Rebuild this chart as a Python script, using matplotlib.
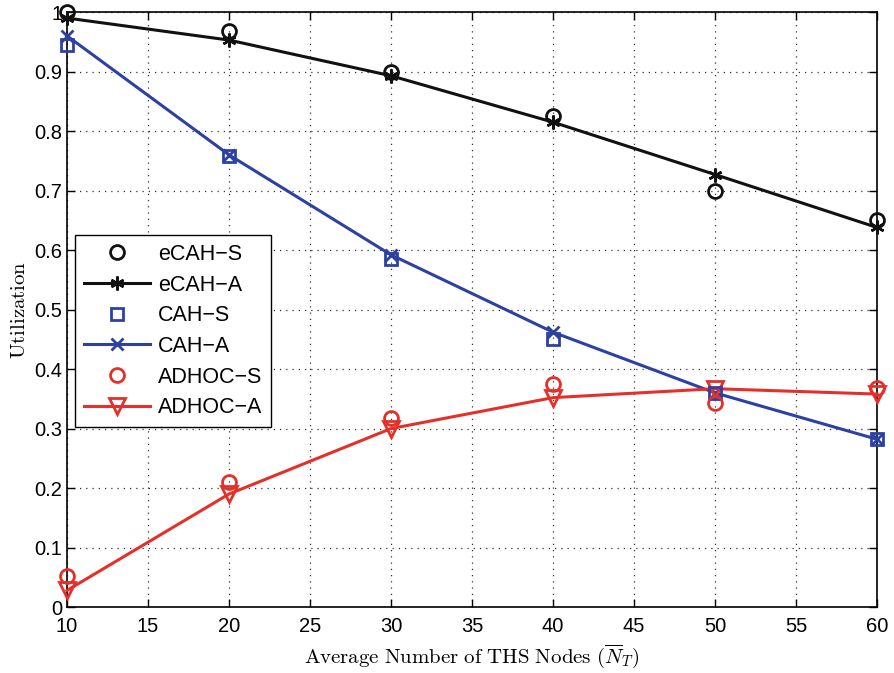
import numpy as np
import matplotlib.pyplot as plt

plt.rcParams['font.family'] = ['Liberation Sans', 'DejaVu Sans']
plt.rcParams['mathtext.fontset'] = 'cm'

nodes = [10, 20, 30, 40, 50, 60]
ecah_s = [1.0, 0.968, 0.90, 0.825, 0.70, 0.65]
ecah_a = [0.99, 0.953, 0.893, 0.815, 0.727, 0.638]
cah_s = [0.945, 0.758, 0.585, 0.45, 0.36, 0.282]
cah_a = [0.96, 0.76, 0.592, 0.462, 0.36, 0.282]
adhoc_s = [0.053, 0.21, 0.317, 0.375, 0.343, 0.368]
adhoc_a = [0.028, 0.19, 0.30, 0.352, 0.367, 0.358]

black = '#111111'
blue = '#2d41a3'
red = '#e5302a'

fig = plt.figure(figsize=(8.94, 6.73), dpi=100)
ax = fig.add_axes([0.075, 0.098, 0.906, 0.884])

ax.plot(nodes, ecah_s, 'o', color=black, mfc='none', ms=10, mew=2, label='eCAH\u2212S', clip_on=False, zorder=4)
ax.plot(nodes, ecah_a, '-', marker=(6, 2, 0), color=black, lw=2.2, ms=10, mew=1.8, label='eCAH\u2212A', clip_on=False, zorder=3)
ax.plot(nodes, cah_s, 's', color=blue, mfc='none', ms=9, mew=2, label='CAH\u2212S', clip_on=False, zorder=4)
ax.plot(nodes, cah_a, '-', marker='x', color=blue, lw=2.2, ms=8, mew=2, label='CAH\u2212A', clip_on=False, zorder=3)
ax.plot(nodes, adhoc_s, 'o', color=red, mfc='none', ms=10, mew=2, label='ADHOC\u2212S', clip_on=False, zorder=4)
ax.plot(nodes, adhoc_a, '-', marker='v', color=red, mfc='none', lw=2.2, ms=11, mew=2, label='ADHOC\u2212A', clip_on=False, zorder=3)

ax.set_xlim(10, 60)
ax.set_ylim(0, 1)
ax.set_xticks(np.arange(10, 61, 5))
ax.set_yticks(np.arange(0, 1.01, 0.1))
ax.set_yticklabels(['0', '0.1', '0.2', '0.3', '0.4', '0.5', '0.6', '0.7', '0.8', '0.9', '1'])
ax.tick_params(direction='in', top=True, right=True, labelsize=14.5, length=6, width=1)
ax.tick_params(axis='x', pad=7)
ax.grid(True, linestyle=(0, (1, 4)), color='#333333', lw=0.9)
for s in ax.spines.values():
    s.set_linewidth(1.2)

ax.set_xlabel(r'$\mathrm{Average\ Number\ of\ THS\ Nodes}\ (\overline{N}_T)$', fontsize=15, labelpad=5)
ax.set_ylabel(r'$\mathrm{Utilization}$', fontsize=15, labelpad=4)

leg = ax.legend(loc='upper left', bbox_to_anchor=(0.0099, 0.625),
                fontsize=15.5, handlelength=3.1, handletextpad=0.35, fancybox=False,
                edgecolor='black', framealpha=1, borderaxespad=0, labelspacing=0.45,
                borderpad=0.4)
leg.get_frame().set_linewidth(1.0)

fig.savefig('out.png', dpi=100)
